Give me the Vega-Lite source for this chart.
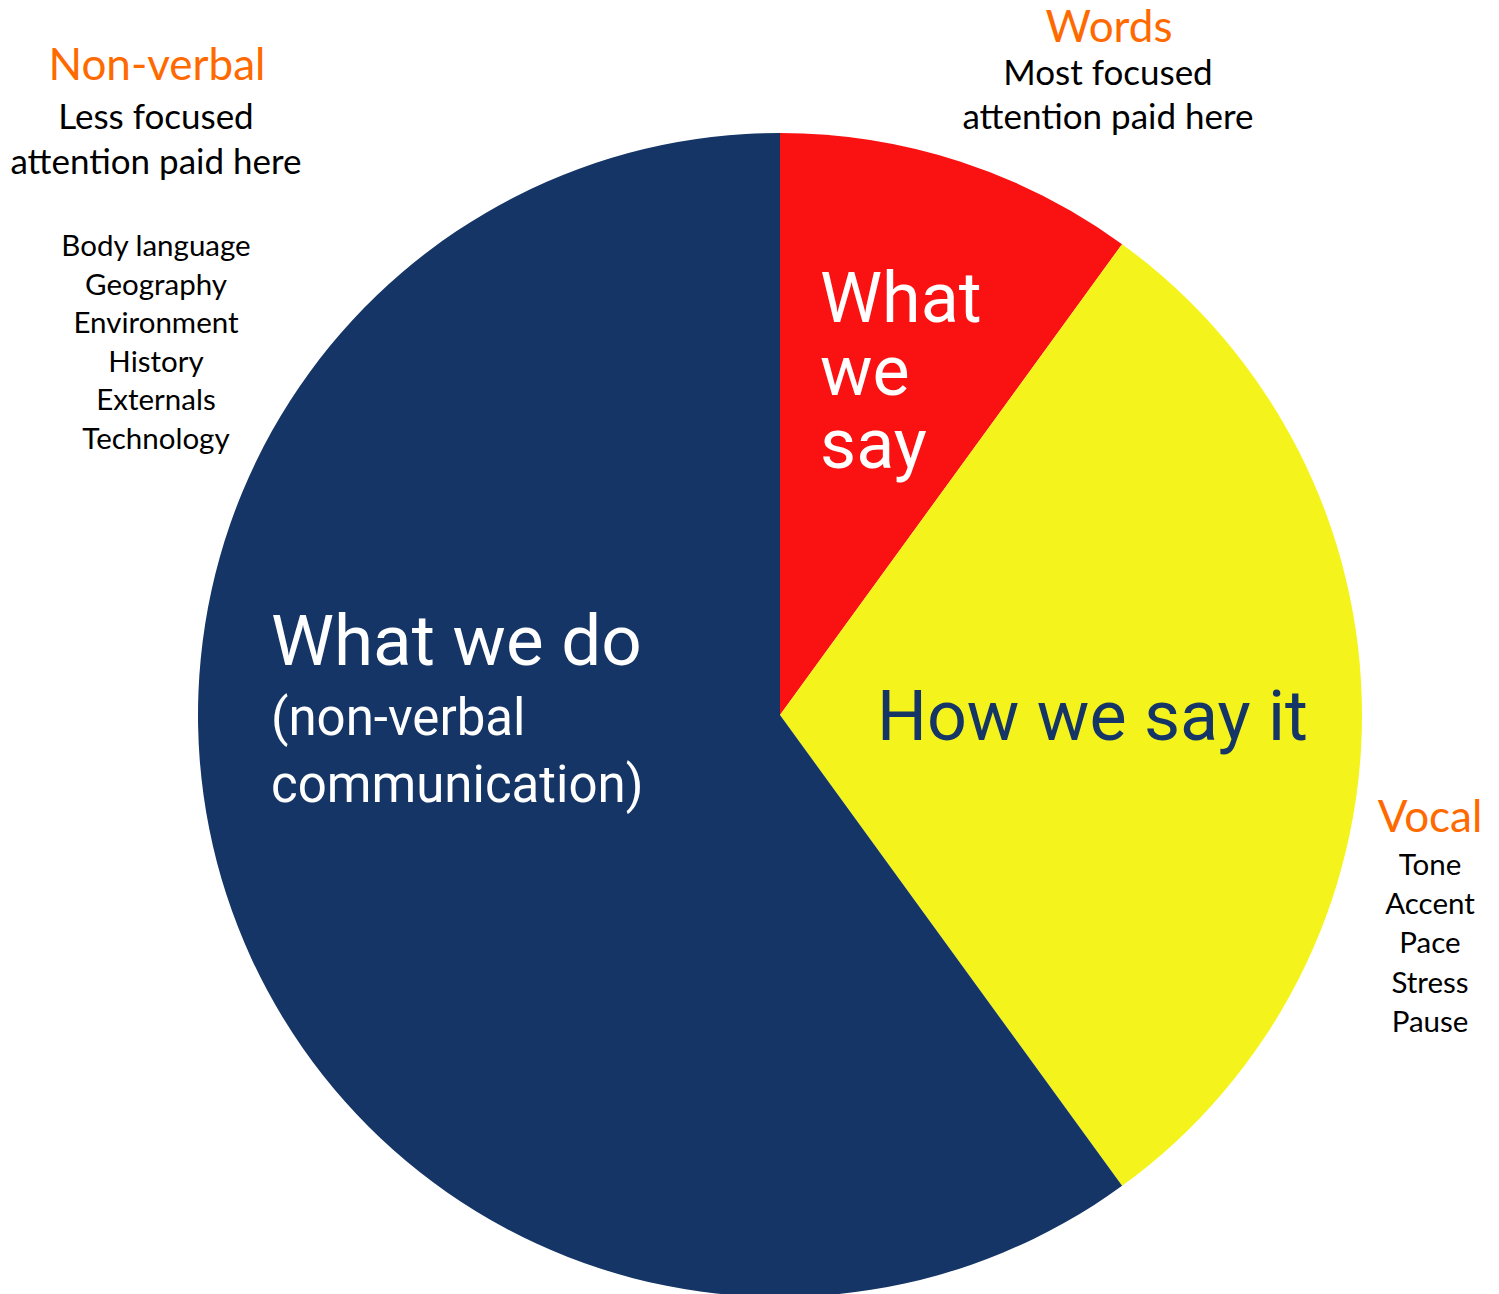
{
  "$schema": "https://vega.github.io/schema/vega-lite/v6.json",
  "autosize": {"type": "none"},
  "padding": {"left": 60, "top": 135, "right": 0, "bottom": 0},
  "width": 1440,
  "height": 1160,
  "background": "white",
  "config": {"view": {"stroke": null}},
  "layer": [
    {
      "data": {"values": [
        {"channel": "Words", "share": 10, "rank": 1},
        {"channel": "Vocal", "share": 30, "rank": 2},
        {"channel": "Non-verbal", "share": 60, "rank": 3}
      ]},
      "mark": {"type": "arc", "outerRadius": 582},
      "encoding": {
        "theta": {"field": "share", "type": "quantitative", "stack": true},
        "order": {"field": "rank", "type": "quantitative"},
        "color": {"field": "channel", "type": "nominal", "legend": null,
          "scale": {"domain": ["Words", "Vocal", "Non-verbal"], "range": ["#FA1212", "#F4F41C", "#143566"]}}
      }
    },
    {"data": {"values": [{}]}, "mark": {"type": "text", "text": ["What", "we", "say"], "x": 760, "y": 187, "align": "left", "baseline": "alphabetic", "font": "Roboto", "fontSize": 70, "lineHeight": 73, "color": "white"}, "encoding": {}},
    {"data": {"values": [{}]}, "mark": {"type": "text", "text": "What we do", "x": 211, "y": 530, "align": "left", "baseline": "alphabetic", "font": "Roboto", "fontSize": 71, "color": "white"}, "encoding": {}},
    {"data": {"values": [{}]}, "mark": {"type": "text", "text": ["(non-verbal", "communication)"], "x": 211, "y": 600, "align": "left", "baseline": "alphabetic", "font": "Roboto", "fontSize": 51, "lineHeight": 67, "color": "white"}, "encoding": {}},
    {"data": {"values": [{}]}, "mark": {"type": "text", "text": "How we say it", "x": 817, "y": 605, "align": "left", "baseline": "alphabetic", "font": "Roboto", "fontSize": 70, "color": "#143566"}, "encoding": {}},
    {"data": {"values": [{}]}, "mark": {"type": "text", "text": "Non-verbal", "x": 97, "y": -68, "align": "center", "baseline": "middle", "font": "Lato", "fontSize": 44, "color": "#FF6A00"}, "encoding": {}},
    {"data": {"values": [{}]}, "mark": {"type": "text", "text": ["Less focused", "attention paid here"], "x": 96, "y": -17, "align": "center", "baseline": "middle", "font": "Lato", "fontSize": 35, "lineHeight": 45, "color": "black"}, "encoding": {}},
    {"data": {"values": [{}]}, "mark": {"type": "text", "text": ["Body language", "Geography", "Environment", "History", "Externals", "Technology"], "x": 96, "y": 112, "align": "center", "baseline": "middle", "font": "Lato", "fontSize": 29.5, "lineHeight": 38.6, "color": "black"}, "encoding": {}},
    {"data": {"values": [{}]}, "mark": {"type": "text", "text": "Words", "x": 1049, "y": -106, "align": "center", "baseline": "middle", "font": "Lato", "fontSize": 44, "color": "#FF6A00"}, "encoding": {}},
    {"data": {"values": [{}]}, "mark": {"type": "text", "text": ["Most focused", "attention paid here"], "x": 1048, "y": -61, "align": "center", "baseline": "middle", "font": "Lato", "fontSize": 35, "lineHeight": 44, "color": "black"}, "encoding": {}},
    {"data": {"values": [{}]}, "mark": {"type": "text", "text": "Vocal", "x": 1370, "y": 684, "align": "center", "baseline": "middle", "font": "Lato", "fontSize": 44, "color": "#FF6A00"}, "encoding": {}},
    {"data": {"values": [{}]}, "mark": {"type": "text", "text": ["Tone", "Accent", "Pace", "Stress", "Pause"], "x": 1370, "y": 731, "align": "center", "baseline": "middle", "font": "Lato", "fontSize": 29.5, "lineHeight": 39.2, "color": "black"}, "encoding": {}}
  ]
}
